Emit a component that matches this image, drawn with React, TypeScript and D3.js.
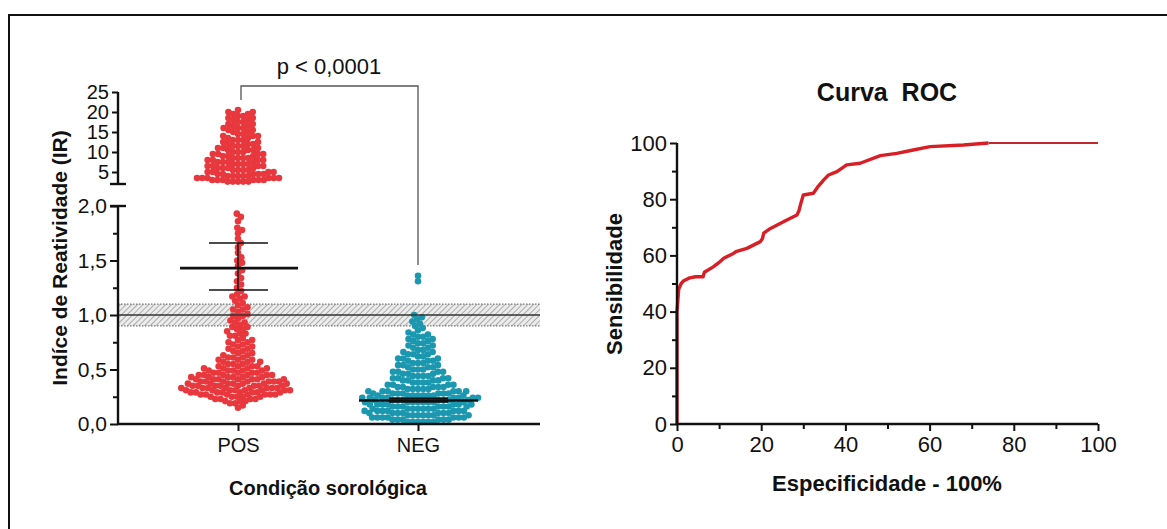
import { useRef, useEffect } from 'react';
import * as d3 from 'd3';

const W = 1167;
const H = 529;
const FONT = "'Liberation Sans', Arial, sans-serif";

const groups = ['POS', 'NEG'];

// [IR value, number of dots]
const posLow: [number, number][] = [
  [0.15, 1], [0.17, 1], [0.19, 2], [0.21, 3], [0.23, 4], [0.25, 5], [0.27, 7],
  [0.29, 8], [0.31, 8], [0.33, 8], [0.35, 8], [0.37, 7], [0.39, 7], [0.41, 7],
  [0.43, 6], [0.45, 6], [0.47, 5], [0.49, 5], [0.51, 4], [0.53, 4], [0.55, 3],
  [0.57, 3], [0.59, 3], [0.61, 3], [0.63, 2], [0.65, 2], [0.67, 2], [0.69, 2],
  [0.71, 2], [0.73, 2], [0.75, 2], [0.77, 2], [0.79, 1], [0.81, 2], [0.83, 2],
  [0.85, 1], [0.87, 2], [0.89, 2], [0.91, 1], [0.93, 2], [0.95, 1], [0.97, 1],
  [0.99, 2], [1.01, 1], [1.03, 1], [1.05, 2], [1.07, 1], [1.09, 1], [1.11, 1],
  [1.13, 1], [1.15, 1], [1.17, 2], [1.19, 1], [1.22, 1], [1.25, 1], [1.28, 1],
  [1.31, 1], [1.34, 1], [1.38, 1], [1.41, 1], [1.45, 1], [1.48, 1], [1.5, 1],
  [1.53, 1], [1.57, 1], [1.62, 1], [1.66, 1], [1.7, 1], [1.75, 1], [1.78, 1],
  [1.8, 1], [1.86, 1], [1.9, 1], [1.93, 1],
];
const posHigh: [number, number][] = [
  [2.6, 5], [3.0, 6], [3.5, 6], [4.0, 5], [4.5, 5], [5.0, 4], [5.5, 4], [6.0, 4],
  [6.5, 4], [7.0, 4], [7.5, 4], [8.0, 4], [8.5, 4], [9.0, 3], [9.5, 4], [10.0, 3],
  [10.5, 3], [11.0, 3], [11.5, 3], [12.0, 3], [12.5, 2], [13.0, 3], [13.5, 2],
  [14.0, 3], [14.5, 2], [15.0, 2], [15.5, 2], [16.0, 3], [16.5, 2], [17.0, 2],
  [17.5, 2], [18.0, 2], [18.5, 2], [19.0, 2], [19.5, 2], [20.0, 2], [20.5, 1],
];
const neg: [number, number][] = [
  [0.02, 6], [0.04, 6], [0.06, 7], [0.08, 7], [0.1, 7], [0.12, 7], [0.14, 7],
  [0.16, 7], [0.18, 7], [0.2, 8], [0.22, 8], [0.24, 8], [0.26, 8], [0.28, 7],
  [0.3, 6], [0.32, 5], [0.34, 5], [0.36, 4], [0.38, 4], [0.4, 4], [0.42, 4],
  [0.44, 4], [0.46, 3], [0.48, 4], [0.5, 3], [0.52, 3], [0.54, 3], [0.56, 3],
  [0.58, 3], [0.6, 3], [0.62, 2], [0.64, 3], [0.66, 2], [0.68, 2], [0.7, 2],
  [0.72, 2], [0.74, 2], [0.76, 2], [0.78, 2], [0.8, 2], [0.82, 2], [0.84, 1],
  [0.86, 1], [0.88, 1], [0.9, 1], [0.92, 1], [0.94, 1], [0.96, 1], [0.98, 1],
  [1.0, 1], [1.31, 1], [1.36, 1],
];

const posMean = 1.43;
const posSem = [1.23, 1.66];
const negMedian = 0.215;
const negCi = [0.205, 0.235];
const cutoff = 1.0;
const greyZone = [0.9, 1.1];

const lowTicks = [0, 0.5, 1, 1.5, 2];
const lowMinor = [0.25, 0.75, 1.25, 1.75];
const highTicks = [5, 10, 15, 20, 25];

// ROC curve (100 - specificity, sensitivity)
const rocX = [0, 0, 0.3, 0.4, 1, 1.6, 3, 4.4, 6.2, 6.5, 8.7, 10, 11.1, 13.4, 14, 16.6, 19.8, 20.3, 20.6, 22.2, 26.1, 28.5, 29, 29.3, 30, 32.4, 33.5, 34.8, 36, 38, 40.3, 43.5, 48.3, 52.2, 56.1, 60.1, 68, 74];
const rocY = [0, 40, 46, 48, 50, 51, 52, 52.4, 52.4, 54, 56, 57.5, 59, 60.7, 61.3, 62.5, 64.9, 66, 67.9, 69.6, 72.6, 74.4, 76, 77.9, 81.5, 82.1, 84.5, 86.8, 88.6, 89.8, 92.2, 92.8, 95.5, 96.3, 97.5, 98.7, 99.3, 100];
const rocTailX = [74, 100];
const rocTailY = [100, 100];
const rocTicks = [0, 20, 40, 60, 80, 100];
const rocMinor = [10, 30, 50, 70, 90];

const expand = (bins: [number, number][]) =>
  bins.flatMap(([v, n]) => d3.range(n).map(() => v));

// simple beeswarm: place each dot as close to the centre as it can go
function swarm(vals: number[], y: (v: number) => number, d: number) {
  const pts: { x: number; y: number }[] = [];
  vals.slice().sort((a, b) => a - b).forEach((v) => {
    const py = y(v);
    const near = pts.filter((p) => Math.abs(p.y - py) < d);
    const cands = [0];
    near.forEach((p) => {
      const dx = Math.sqrt(d * d - (p.y - py) ** 2);
      cands.push(p.x + dx, p.x - dx);
    });
    cands.sort((a, b) => Math.abs(a) - Math.abs(b));
    const x = cands.find((c) => near.every((p) => (p.x - c) ** 2 + (p.y - py) ** 2 >= d * d - 0.01)) ?? 0;
    pts.push({ x, y: py });
  });
  return pts;
}

const comma = (v: number) => d3.format('.1f')(v).replace('.', ',');

export default function App() {
  const svgRef = useRef<SVGSVGElement>(null);

  useEffect(() => {
    if (!svgRef.current) return;
    const svg = d3.select(svgRef.current);
    svg.selectAll('*').remove();

    // frame
    svg.append('path').attr('d', `M9,${H} V15 H${W}`).attr('fill', 'none').attr('stroke', '#111').attr('stroke-width', 2);

    const defs = svg.append('defs');
    const pat = defs.append('pattern').attr('id', 'hatch').attr('patternUnits', 'userSpaceOnUse')
      .attr('width', 4).attr('height', 4).attr('patternTransform', 'rotate(45)');
    pat.append('rect').attr('width', 4).attr('height', 4).attr('fill', '#ececec');
    pat.append('line').attr('x1', 0).attr('y1', 0).attr('x2', 0).attr('y2', 4).attr('stroke', '#9a9a9a').attr('stroke-width', 1.6);

    // ---------- left: scatter ----------
    const x = d3.scalePoint<string>().domain(groups).range([238, 418]);
    const yLow = d3.scaleLinear().domain([0, 2]).range([424, 206]);
    const yHigh = d3.scaleLinear().domain([2, 25]).range([184, 92]);
    const axisL = 118;
    const axisR = 540;

    const L = svg.append('g');

    // grey zone
    L.append('rect').attr('x', axisL).attr('width', axisR - axisL)
      .attr('y', yLow(greyZone[1])).attr('height', yLow(greyZone[0]) - yLow(greyZone[1]))
      .attr('fill', 'url(#hatch)');
    greyZone.forEach((g) => {
      L.append('line').attr('x1', axisL).attr('x2', axisR).attr('y1', yLow(g)).attr('y2', yLow(g))
        .attr('stroke', '#777').attr('stroke-width', 1.2).attr('stroke-dasharray', '1.5,1.5');
    });

    const r = 3.3;
    const dd = 5.2;
    const posPts = swarm(expand(posLow), yLow, dd);
    const posHighPts = swarm(expand(posHigh), yHigh, dd);
    const negPts = swarm(expand(neg), yLow, dd);

    const dots = (pts: { x: number; y: number }[], cx: number, color: string) => {
      L.append('g').selectAll('circle').data(pts).join('circle')
        .attr('cx', (p) => cx + p.x).attr('cy', (p) => p.y).attr('r', r).attr('fill', color);
    };
    dots(posPts, x('POS')!, '#e8383d');
    dots(posHighPts, x('POS')!, '#e8383d');
    dots(negPts, x('NEG')!, '#1b98b0');

    // cutoff line
    L.append('line').attr('x1', axisL).attr('x2', axisR).attr('y1', yLow(cutoff)).attr('y2', yLow(cutoff))
      .attr('stroke', '#333').attr('stroke-width', 1.6);

    // mean +- sem (POS)
    const px = x('POS')!;
    L.append('line').attr('x1', px - 58).attr('x2', px + 60).attr('y1', yLow(posMean)).attr('y2', yLow(posMean))
      .attr('stroke', '#111').attr('stroke-width', 2.6);
    posSem.forEach((s) => {
      L.append('line').attr('x1', px - 29).attr('x2', px + 30).attr('y1', yLow(s)).attr('y2', yLow(s))
        .attr('stroke', '#111').attr('stroke-width', 1.4);
    });
    L.append('line').attr('x1', px).attr('x2', px).attr('y1', yLow(posSem[0])).attr('y2', yLow(posSem[1]))
      .attr('stroke', '#111').attr('stroke-width', 1.4);

    // median (NEG)
    const nx = x('NEG')!;
    L.append('line').attr('x1', nx - 59).attr('x2', nx + 60).attr('y1', yLow(negMedian)).attr('y2', yLow(negMedian))
      .attr('stroke', '#111').attr('stroke-width', 2.6);
    negCi.forEach((s) => {
      L.append('line').attr('x1', nx - 29).attr('x2', nx + 30).attr('y1', yLow(s)).attr('y2', yLow(s))
        .attr('stroke', '#111').attr('stroke-width', 2);
    });

    // axes
    const styleAxis = (g: d3.Selection<SVGGElement, unknown, null, undefined>, size = 21) => {
      g.selectAll('line').attr('stroke', '#111').attr('stroke-width', 2);
      g.selectAll('text').attr('fill', '#111').attr('font-family', FONT).attr('font-size', size);
    };
    const gLow = L.append('g').attr('transform', `translate(${axisL},0)`)
      .call(d3.axisLeft(yLow).tickValues(lowTicks).tickFormat((d) => comma(+d)).tickSize(8).tickPadding(3));
    gLow.select('.domain').remove();
    styleAxis(gLow);
    const gLowMinor = L.append('g').attr('transform', `translate(${axisL},0)`)
      .call(d3.axisLeft(yLow).tickValues(lowMinor).tickFormat(() => '').tickSize(5));
    gLowMinor.select('.domain').remove();
    styleAxis(gLowMinor);
    L.append('line').attr('x1', axisL).attr('x2', axisL).attr('y1', yLow(2)).attr('y2', yLow(0) + 1)
      .attr('stroke', '#111').attr('stroke-width', 2.4);
    L.append('line').attr('x1', axisL - 8).attr('x2', axisL + 8).attr('y1', yLow(2)).attr('y2', yLow(2))
      .attr('stroke', '#111').attr('stroke-width', 2.4);

    const gHigh = L.append('g').attr('transform', `translate(${axisL},0)`)
      .call(d3.axisLeft(yHigh).tickValues(highTicks).tickFormat((d) => String(d)).tickSize(6).tickPadding(3));
    gHigh.select('.domain').remove();
    styleAxis(gHigh, 20);
    L.append('line').attr('x1', axisL).attr('x2', axisL).attr('y1', yHigh(25)).attr('y2', yHigh(2))
      .attr('stroke', '#111').attr('stroke-width', 2.4);
    L.append('line').attr('x1', axisL - 8).attr('x2', axisL + 8).attr('y1', yHigh(2)).attr('y2', yHigh(2))
      .attr('stroke', '#111').attr('stroke-width', 2.4);

    const gX = L.append('g').attr('transform', `translate(0,${yLow(0)})`)
      .call(d3.axisBottom(x).tickSize(7).tickPadding(7));
    gX.select('.domain').remove();
    styleAxis(gX, 20);
    L.append('line').attr('x1', axisL - 1).attr('x2', axisR).attr('y1', yLow(0)).attr('y2', yLow(0))
      .attr('stroke', '#111').attr('stroke-width', 2.4);

    // significance bracket
    L.append('path').attr('d', `M${px + 3},100 V86 H${nx} V265`).attr('fill', 'none')
      .attr('stroke', '#555').attr('stroke-width', 1.3);
    L.append('text').attr('x', 329).attr('y', 74).attr('text-anchor', 'middle')
      .attr('font-family', FONT).attr('font-size', 22).attr('fill', '#111').text('p < 0,0001');

    L.append('text').attr('transform', 'translate(67,258) rotate(-90)').attr('text-anchor', 'middle')
      .attr('font-family', FONT).attr('font-size', 21).attr('font-weight', 'bold').attr('fill', '#111')
      .text('Indíce de Reatividade (IR)');
    L.append('text').attr('x', 328).attr('y', 495).attr('text-anchor', 'middle')
      .attr('font-family', FONT).attr('font-size', 20).attr('font-weight', 'bold').attr('fill', '#111')
      .text('Condição sorológica');

    // ---------- right: ROC ----------
    const xr = d3.scaleLinear().domain([0, 100]).range([677, 1098]);
    const yr = d3.scaleLinear().domain([0, 100]).range([424, 143]);
    const R = svg.append('g');

    const line = d3.line<number>().x((d) => xr(d)).y((_, i) => yr(rocY[i]));
    R.append('path').datum(rocX).attr('d', line).attr('fill', 'none')
      .attr('stroke', '#d81f26').attr('stroke-width', 3.4).attr('stroke-linejoin', 'round');
    const tail = d3.line<number>().x((d) => xr(d)).y((_, i) => yr(rocTailY[i]));
    R.append('path').datum(rocTailX).attr('d', tail).attr('fill', 'none')
      .attr('stroke', '#c0282e').attr('stroke-width', 1.8);

    const gRy = R.append('g').attr('transform', `translate(${xr(0)},0)`)
      .call(d3.axisLeft(yr).tickValues(rocTicks).tickSize(7).tickPadding(3));
    gRy.select('.domain').remove();
    styleAxis(gRy, 22);
    const gRyMinor = R.append('g').attr('transform', `translate(${xr(0)},0)`)
      .call(d3.axisLeft(yr).tickValues(rocMinor).tickFormat(() => '').tickSize(5));
    gRyMinor.select('.domain').remove();
    styleAxis(gRyMinor);
    const gRx = R.append('g').attr('transform', `translate(0,${yr(0)})`)
      .call(d3.axisBottom(xr).tickValues(rocTicks).tickSize(7).tickPadding(5));
    gRx.select('.domain').remove();
    styleAxis(gRx, 22);
    const gRxMinor = R.append('g').attr('transform', `translate(0,${yr(0)})`)
      .call(d3.axisBottom(xr).tickValues(rocMinor).tickFormat(() => '').tickSize(5));
    gRxMinor.select('.domain').remove();
    styleAxis(gRxMinor);
    R.append('line').attr('x1', xr(0)).attr('x2', xr(0)).attr('y1', yr(100)).attr('y2', yr(0) + 1)
      .attr('stroke', '#111').attr('stroke-width', 2.4);
    R.append('line').attr('x1', xr(0) - 1).attr('x2', xr(100)).attr('y1', yr(0)).attr('y2', yr(0))
      .attr('stroke', '#111').attr('stroke-width', 2.4);

    R.append('text').attr('x', 887).attr('y', 101).attr('text-anchor', 'middle')
      .attr('font-family', FONT).attr('font-size', 25).attr('font-weight', 'bold').attr('fill', '#111')
      .attr('xml:space', 'preserve').style('white-space', 'pre').text('Curva  ROC');
    R.append('text').attr('transform', 'translate(622,284) rotate(-90)').attr('text-anchor', 'middle')
      .attr('font-family', FONT).attr('font-size', 22).attr('font-weight', 'bold').attr('fill', '#111')
      .text('Sensibilidade');
    R.append('text').attr('x', 887).attr('y', 491).attr('text-anchor', 'middle')
      .attr('font-family', FONT).attr('font-size', 22).attr('font-weight', 'bold').attr('fill', '#111')
      .text('Especificidade - 100%');
  }, []);

  return (
    <svg
      ref={svgRef}
      width={W}
      height={H}
      style={{ position: 'absolute', left: 0, top: 0, background: '#fff' }}
    />
  );
}
